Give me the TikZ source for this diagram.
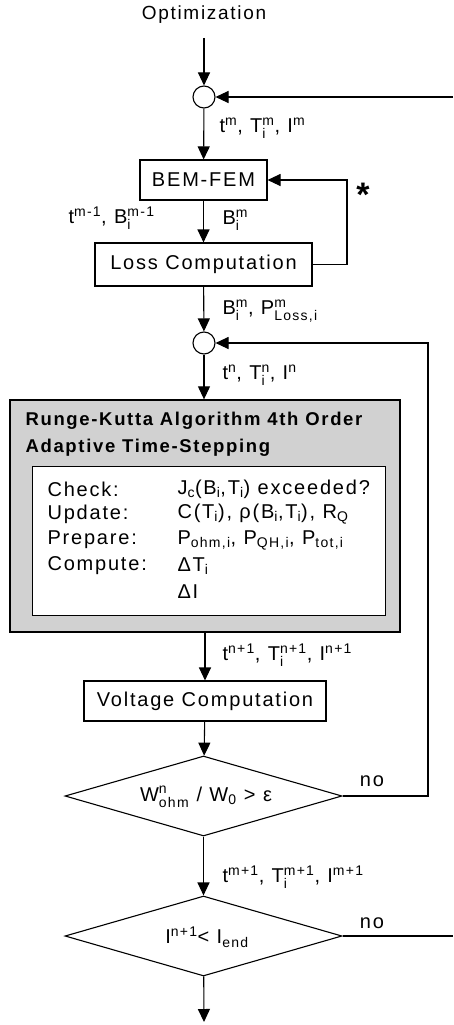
\documentclass[tikz,border=0pt]{standalone}
\usepackage{amsmath}
\usepackage{fontspec}
\setmainfont{Liberation Sans}[LetterSpace=9]
\usetikzlibrary{arrows.meta,shapes.geometric}
\newcommand\ssb[1]{$_{\text{#1}}$}
\newcommand\ssp[1]{$^{\text{#1}}$}
\newcommand\ssbp[2]{$_{\text{#1}}^{\text{#2}}$}
\begin{document}
\begin{tikzpicture}[x=1pt,y=-1pt,line width=1.1pt,
  >={Triangle[width=12pt,length=13pt]},
  every node/.style={font=\fontsize{20}{23}\selectfont, inner sep=0pt},
  stepbox/.style={draw, rectangle, line width=1.1pt},
  junction/.style={draw, circle, minimum size=22pt, line width=1.1pt},
  decision/.style={draw, diamond, aspect=3.46, minimum width=277pt, minimum height=80pt, line width=1.1pt},
  lbl/.style={anchor=west},
  row/.style={anchor=west}]
\useasboundingbox (0,0) rectangle (453,1025);

\node[font=\fontsize{19}{22}\selectfont] (opt) at (204,15) {Optimization};
\coordinate (optb) at (204,38);
\node[junction] (c1) at (204,97) {};
\coordinate (r1) at (453,97);

\node[stepbox, minimum width=127pt, minimum height=40pt] (bem) at (203.5,180) {BEM-FEM};
\node[stepbox, minimum width=217pt, minimum height=43pt] (loss) at (203.5,264.5) {Loss Computation};
\coordinate (lp) at (347,222);
\node[font=\bfseries\fontsize{34}{34}\selectfont] (star) at (363,195) {*};

\node[junction] (c2) at (204,343) {};

\node[draw, rectangle, fill=black!18, line width=1.3pt, minimum width=390pt, minimum height=232pt] (rk) at (205,516) {};
\node[lbl, font=\bfseries\fontsize{18.5}{22}\selectfont] (t1) at (25,421) {Runge-Kutta Algorithm 4th Order};
\node[lbl, font=\bfseries\fontsize{18.5}{22}\selectfont] (t2) at (25,448) {Adaptive Time-Stepping};
\node[draw, rectangle, fill=white, line width=1.3pt, minimum width=353pt, minimum height=149pt] (inner) at (209,541) {};

\node[row] (k1) at (47,489) {Check:};
\node[row] (k2) at (47,514) {Update:};
\node[row] (k3) at (47,540) {Prepare:};
\node[row] (k4) at (47,566) {Compute:};
\node[row] (v1) at (177,489) {J\ssb{c}(B\ssb{i},T\ssb{i}) exceeded?};
\node[row] (v2) at (177,514) {C(T\ssb{i}), ρ(B\ssb{i},T\ssb{i}), R\ssb{Q}};
\node[row] (v3) at (177,540) {P\ssb{ohm,i}, P\ssb{QH,i}, P\ssb{tot,i}};
\node[row] (v4) at (177,566) {ΔT\ssb{i}};
\node[row] (v5) at (177,592) {ΔI};

\node[stepbox, minimum width=242pt, minimum height=40pt] (volt) at (205,701) {Voltage Computation};
\node[decision] (d1) at (203.5,796) {};
\node (d1t) at (206,797) {W\ssbp{ohm}{n} / W\ssb{0} > ε};
\coordinate (rl) at (428,560);
\node[decision] (d2) at (203.5,936) {};
\node (d2t) at (207,937) {I\ssp{n+1}< I\ssb{end}};
\coordinate (r2) at (453,936);
\coordinate (endc) at (204,1022);

% labels
\node[lbl] (l1) at (219,128) {t\ssp{m}, T\ssbp{i}{m}, I\ssp{m}};
\node[lbl] (l2) at (68,218) {t\ssp{m-1}, B\ssbp{i}{m-1}};
\node[lbl] (l3) at (222,220) {B\ssbp{i}{m}};
\node[lbl] (l4) at (222,311) {B\ssbp{i}{m}, P\ssbp{Loss,i}{m}};
\node[lbl] (l5) at (222,375) {t\ssp{n}, T\ssbp{i}{n}, I\ssp{n}};
\node[lbl] (l6) at (222,655) {t\ssp{n+1}, T\ssbp{i}{n+1}, I\ssp{n+1}};
\node[lbl] (l7) at (222,877) {t\ssp{m+1}, T\ssbp{i}{m+1}, I\ssp{m+1}};
\node (no1) at (372,781) {no};
\node (no2) at (372,923) {no};

% connectors
\draw[->] (optb) -- (c1);
\draw[->] (r1) -- (c1);
\draw[->] (c1) -- (bem);
\draw[->] (bem) -- (loss);
\draw[->] (loss.east) -| (lp) |- (bem.east);
\draw[->] (loss) -- (c2);
\draw[->] (c2) -- (c2 |- rk.north);
\draw[->] (rk.south -| volt) -- (volt);
\draw[->] (volt) -- (d1);
\draw[->] (d1.east) -| (rl) |- (c2.east);
\draw[->] (d1) -- (d2);
\draw (d2.east) -- (r2);
\draw[->] (d2) -- (endc);
\end{tikzpicture}
\end{document}
